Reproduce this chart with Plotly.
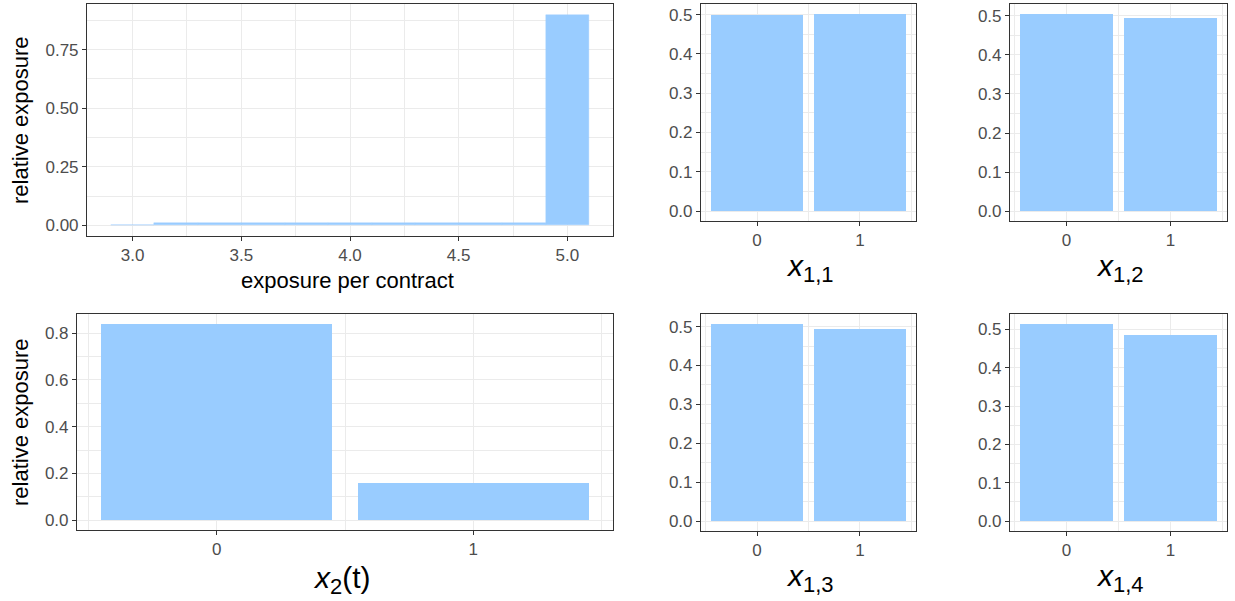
import plotly.graph_objects as go

# ---------------- data ----------------
exposure_x = [3.0, 3.2, 3.4, 3.6, 3.8, 4.0, 4.2, 4.4, 4.6, 4.8, 5.0]
exposure_rel = [0.004, 0.0107, 0.0107, 0.0107, 0.0107, 0.0107, 0.0107, 0.0107, 0.0107, 0.0107, 0.900]
exposure_binwidth = 0.2

levels = [0, 1]
x2_rel = [0.84, 0.16]
x11_rel = [0.498, 0.502]
x12_rel = [0.505, 0.495]
x13_rel = [0.507, 0.493]
x14_rel = [0.514, 0.486]

# ---------------- style ----------------
W, H = 1235, 601
BAR = "#99CCFF"
GRID = "#EBEBEB"
BORDER = "#333333"
TICKC = "#4D4D4D"
FONT = "Liberation Sans, Arial, sans-serif"
TICK_SIZE = 17
TITLE_SIZE = 22
MATH_SIZE = 30
SUB_SIZE = 22


def dx(a, b):
    return [a / W, b / W]


def dy(top, bottom):
    return [1 - bottom / H, 1 - top / H]


fig = go.Figure()


def axis_common():
    return dict(
        showline=True, mirror=True, linecolor=BORDER, linewidth=1.1,
        ticks="outside", ticklen=4, tickwidth=1.1, tickcolor=BORDER,
        showgrid=True, gridcolor=GRID, gridwidth=1.1, zeroline=False,
        tickfont=dict(family=FONT, size=TICK_SIZE, color=TICKC),
        fixedrange=True,
    )


panels = []

# top-left: exposure histogram
ymax = max(exposure_rel)
xlo = min(exposure_x) - exposure_binwidth / 2
xhi = max(exposure_x) + exposure_binwidth / 2
pad = (xhi - xlo) * 0.05
panels.append(dict(
    x=exposure_x, y=exposure_rel, width=[exposure_binwidth] * len(exposure_x),
    xdom=dx(87, 613), ydom=dy(4, 236),
    xrange=[xlo - pad, xhi + pad], yrange=[-0.05 * ymax, 1.05 * ymax],
    xtickvals=[3.0, 3.5, 4.0, 4.5, 5.0], xticktext=["3.0", "3.5", "4.0", "4.5", "5.0"],
    xminor=[3.25, 3.75, 4.25, 4.75],
    ytickvals=[0, 0.25, 0.5, 0.75], yticktext=["0.00", "0.25", "0.50", "0.75"],
    yminor=[0.125, 0.375, 0.625, 0.875],
))


def binary_panel(vals, xdom, ydom, ytv, ytt, ymin_vals):
    m = max(vals)
    lo = min(levels) - 0.45
    hi = max(levels) + 0.45
    p = (hi - lo) * 0.05
    return dict(
        x=levels, y=vals, width=[0.9] * len(levels),
        xdom=xdom, ydom=ydom,
        xrange=[lo - p, hi + p], yrange=[-0.05 * m, 1.05 * m],
        xtickvals=levels, xticktext=[str(v) for v in levels],
        xminor=[-0.5, 0.5, 1.5],
        ytickvals=ytv, yticktext=ytt, yminor=ymin_vals,
    )


small_tv = [0, 0.1, 0.2, 0.3, 0.4, 0.5]
small_tt = ["0.0", "0.1", "0.2", "0.3", "0.4", "0.5"]
small_minor = [0.05, 0.15, 0.25, 0.35, 0.45]

panels.append(binary_panel(x2_rel, dx(77, 613), dy(314, 530),
                           [0, 0.2, 0.4, 0.6, 0.8], ["0.0", "0.2", "0.4", "0.6", "0.8"],
                           [0.1, 0.3, 0.5, 0.7]))
panels.append(binary_panel(x11_rel, dx(701, 916), dy(4, 221), small_tv, small_tt, small_minor))
panels.append(binary_panel(x12_rel, dx(1010, 1227), dy(4, 221), small_tv, small_tt, small_minor))
panels.append(binary_panel(x13_rel, dx(701, 916), dy(314, 531), small_tv, small_tt, small_minor))
panels.append(binary_panel(x14_rel, dx(1010, 1227), dy(314, 531), small_tv, small_tt, small_minor))

layout_axes = {}
for i, p in enumerate(panels, start=1):
    xa = "x" if i == 1 else f"x{i}"
    ya = "y" if i == 1 else f"y{i}"
    fig.add_trace(go.Bar(
        x=p["x"], y=p["y"], width=p["width"], xaxis=xa, yaxis=ya,
        marker=dict(color=BAR, line=dict(color=BAR, width=0.4 if i == 1 else 0)),
        showlegend=False, hoverinfo="x+y",
    ))
    xkey = "xaxis" if i == 1 else f"xaxis{i}"
    ykey = "yaxis" if i == 1 else f"yaxis{i}"
    xax = axis_common()
    xax.update(domain=p["xdom"], range=p["xrange"], anchor=ya,
               tickmode="array", tickvals=p["xtickvals"], ticktext=p["xticktext"],
               minor=dict(tickvals=p["xminor"], showgrid=True, gridcolor=GRID,
                          gridwidth=0.55, ticks=""))
    yax = axis_common()
    yax.update(domain=p["ydom"], range=p["yrange"], anchor=xa,
               tickmode="array", tickvals=p["ytickvals"], ticktext=p["yticktext"],
               minor=dict(tickvals=p["yminor"], showgrid=True, gridcolor=GRID,
                          gridwidth=0.55, ticks=""))
    layout_axes[xkey] = xax
    layout_axes[ykey] = yax

fig.update_layout(**layout_axes)

annotations = []


def ann(text, x, y, size, angle=0):
    annotations.append(dict(
        text=text, x=x / W, y=1 - y / H, xref="paper", yref="paper",
        xanchor="center", yanchor="middle", showarrow=False, textangle=angle,
        font=dict(family=FONT, size=size, color="black"),
    ))


def math_label(base, sub, tail=""):
    return (f"<i>{base}</i><sub><span style='font-size:{SUB_SIZE}px'>{sub}</span></sub>"
            + tail)


ann("exposure per contract", 347, 280, TITLE_SIZE)
ann("relative exposure", 20, 120, TITLE_SIZE, -90)
ann("relative exposure", 20, 422, TITLE_SIZE, -90)
ann(math_label("x", "2", "(t)"), 342, 580, MATH_SIZE)
ann(math_label("x", "1,1"), 810, 268, MATH_SIZE)
ann(math_label("x", "1,2"), 1120, 268, MATH_SIZE)
ann(math_label("x", "1,3"), 810, 578, MATH_SIZE)
ann(math_label("x", "1,4"), 1120, 578, MATH_SIZE)

fig.update_layout(
    annotations=annotations,
    width=W, height=H,
    margin=dict(l=0, r=0, t=0, b=0),
    paper_bgcolor="white", plot_bgcolor="white",
    bargap=0, barmode="overlay",
    font=dict(family=FONT),
    showlegend=False,
)

fig.write_html(
    "out.html",
    config={"displayModeBar": False},
    post_script="document.body.style.margin='0';document.body.style.overflow='hidden';",
)
